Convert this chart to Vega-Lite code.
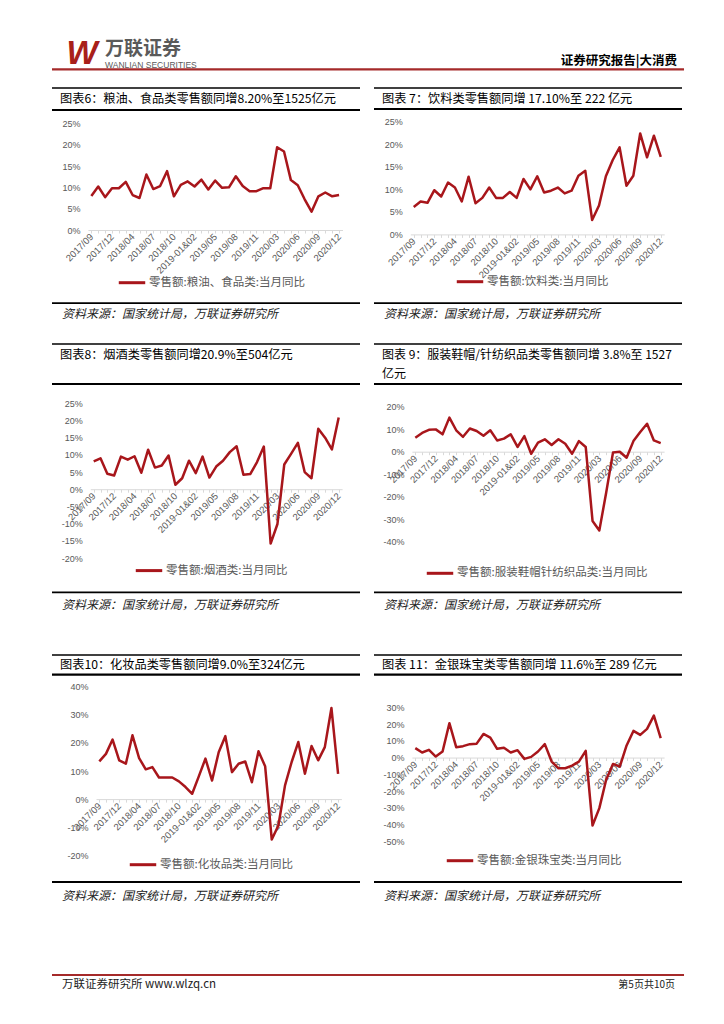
{
  "$schema": "https://vega.github.io/schema/vega-lite/v6.json",
  "padding": {"left": 50, "top": 38, "right": 0, "bottom": 0},
  "background": "white",
  "columns": 2,
  "align": "each",
  "bounds": "flush",
  "spacing": {"row": 0, "column": 14},
  "resolve": {"scale": {"color": "independent"}, "legend": {"color": "independent"}},
  "config": {
    "view": {"stroke": null},
    "font": "Liberation Sans",
    "axisX": {"labelAngle": -45, "labelAlign": "right", "labelBaseline": "middle", "domainColor": "#d9d9d9", "tickColor": "#d9d9d9", "tickSize": 3, "grid": false, "labelPadding": 2, "labelFont": "Liberation Sans", "labelFontSize": 9.5, "labelColor": "#595959", "labelOverlap": false, "labelBound": false},
    "axisY": {"domain": false, "ticks": false, "grid": false, "labelPadding": 8, "labelFont": "Liberation Sans", "labelFontSize": 9, "labelColor": "#595959", "labelOverlap": false},
    "legend": {"orient": "none", "direction": "horizontal", "symbolType": "stroke", "symbolStrokeWidth": 3, "symbolSize": 700, "labelFont": "Noto Sans CJK SC", "labelFontSize": 11.5, "labelColor": "#595959", "labelLimit": 400, "labelOffset": 2, "padding": 0}
  },
  "datasets": {
    "sales": [
      {"month": "2017/09", "grain": 8.0, "beverage": 6.1, "tobacco": 8.1, "apparel": 6.2, "cosmetics": 13.4, "jewelry": 5.6},
      {"month": "2017/10", "grain": 10.2, "beverage": 7.3, "tobacco": 9.0, "apparel": 8.3, "cosmetics": 16.1, "jewelry": 3.0},
      {"month": "2017/11", "grain": 7.7, "beverage": 7.0, "tobacco": 4.5, "apparel": 9.7, "cosmetics": 21.2, "jewelry": 4.6},
      {"month": "2017/12", "grain": 9.8, "beverage": 9.8, "tobacco": 4.0, "apparel": 9.9, "cosmetics": 13.8, "jewelry": 0.6},
      {"month": "2018-01&02", "grain": 9.8, "beverage": 8.4, "tobacco": 9.5, "apparel": 7.7, "cosmetics": 12.6, "jewelry": 3.6},
      {"month": "2018/03", "grain": 11.3, "beverage": 11.5, "tobacco": 8.6, "apparel": 15.1, "cosmetics": 22.7, "jewelry": 20.5},
      {"month": "2018/04", "grain": 8.2, "beverage": 10.4, "tobacco": 9.6, "apparel": 9.5, "cosmetics": 14.6, "jewelry": 6.2},
      {"month": "2018/05", "grain": 7.5, "beverage": 7.3, "tobacco": 4.8, "apparel": 6.6, "cosmetics": 10.6, "jewelry": 6.8},
      {"month": "2018/06", "grain": 13.0, "beverage": 12.8, "tobacco": 11.5, "apparel": 10.3, "cosmetics": 11.4, "jewelry": 8.0},
      {"month": "2018/07", "grain": 9.6, "beverage": 6.9, "tobacco": 6.3, "apparel": 9.2, "cosmetics": 7.7, "jewelry": 8.3},
      {"month": "2018/08", "grain": 10.3, "beverage": 8.1, "tobacco": 6.9, "apparel": 7.1, "cosmetics": 7.7, "jewelry": 14.1},
      {"month": "2018/09", "grain": 13.8, "beverage": 10.4, "tobacco": 9.8, "apparel": 9.5, "cosmetics": 7.7, "jewelry": 11.9},
      {"month": "2018/10", "grain": 7.9, "beverage": 8.1, "tobacco": 1.3, "apparel": 5.0, "cosmetics": 6.3, "jewelry": 5.2},
      {"month": "2018/11", "grain": 10.6, "beverage": 8.1, "tobacco": 3.2, "apparel": 5.8, "cosmetics": 4.3, "jewelry": 5.8},
      {"month": "2018/12", "grain": 11.4, "beverage": 9.4, "tobacco": 8.3, "apparel": 7.7, "cosmetics": 1.9, "jewelry": 3.0},
      {"month": "2019-01&02", "grain": 10.2, "beverage": 8.1, "tobacco": 4.7, "apparel": 2.1, "cosmetics": 8.1, "jewelry": 4.4},
      {"month": "2019/03", "grain": 11.8, "beverage": 12.3, "tobacco": 9.5, "apparel": 6.9, "cosmetics": 14.4, "jewelry": -0.8},
      {"month": "2019/04", "grain": 9.5, "beverage": 10.0, "tobacco": 3.4, "apparel": -0.9, "cosmetics": 6.6, "jewelry": 0.4},
      {"month": "2019/05", "grain": 11.6, "beverage": 12.9, "tobacco": 6.6, "apparel": 4.0, "cosmetics": 16.7, "jewelry": 3.6},
      {"month": "2019/06", "grain": 9.9, "beverage": 9.3, "tobacco": 8.3, "apparel": 5.5, "cosmetics": 22.4, "jewelry": 8.0},
      {"month": "2019/07", "grain": 10.0, "beverage": 9.7, "tobacco": 10.8, "apparel": 3.0, "cosmetics": 9.6, "jewelry": -2.4},
      {"month": "2019/08", "grain": 12.6, "beverage": 10.4, "tobacco": 12.5, "apparel": 5.5, "cosmetics": 12.6, "jewelry": -6.4},
      {"month": "2019/09", "grain": 10.3, "beverage": 9.1, "tobacco": 4.2, "apparel": 3.5, "cosmetics": 13.4, "jewelry": -6.4},
      {"month": "2019/10", "grain": 9.1, "beverage": 9.7, "tobacco": 4.4, "apparel": -0.9, "cosmetics": 6.0, "jewelry": -4.8},
      {"month": "2019/11", "grain": 9.1, "beverage": 13.0, "tobacco": 7.9, "apparel": 4.7, "cosmetics": 17.0, "jewelry": -2.4},
      {"month": "2019/12", "grain": 9.8, "beverage": 14.1, "tobacco": 12.4, "apparel": 2.1, "cosmetics": 11.7, "jewelry": 4.0},
      {"month": "2020-01&02", "grain": 9.8, "beverage": 3.2, "tobacco": -15.8, "apparel": -30.7, "cosmetics": -14.4, "jewelry": -40.6},
      {"month": "2020/03", "grain": 19.4, "beverage": 6.4, "tobacco": -10.1, "apparel": -34.9, "cosmetics": -9.4, "jewelry": -30.2},
      {"month": "2020/04", "grain": 18.4, "beverage": 12.9, "tobacco": 7.2, "apparel": -18.2, "cosmetics": 4.9, "jewelry": -13.3},
      {"month": "2020/05", "grain": 11.7, "beverage": 16.5, "tobacco": 10.3, "apparel": -0.4, "cosmetics": 13.2, "jewelry": -3.8},
      {"month": "2020/06", "grain": 10.5, "beverage": 19.3, "tobacco": 13.5, "apparel": 0.0, "cosmetics": 20.3, "jewelry": -5.4},
      {"month": "2020/07", "grain": 7.2, "beverage": 10.8, "tobacco": 5.0, "apparel": -2.7, "cosmetics": 9.0, "jewelry": 7.2},
      {"month": "2020/08", "grain": 4.3, "beverage": 13.0, "tobacco": 3.2, "apparel": 4.7, "cosmetics": 18.9, "jewelry": 15.9},
      {"month": "2020/09", "grain": 7.9, "beverage": 22.4, "tobacco": 17.6, "apparel": 8.7, "cosmetics": 13.8, "jewelry": 13.5},
      {"month": "2020/10", "grain": 8.8, "beverage": 17.1, "tobacco": 15.0, "apparel": 12.4, "cosmetics": 18.5, "jewelry": 17.1},
      {"month": "2020/11", "grain": 7.9, "beverage": 21.9, "tobacco": 11.6, "apparel": 5.0, "cosmetics": 32.4, "jewelry": 25.0},
      {"month": "2020/12", "grain": 8.2, "beverage": 17.2, "tobacco": 20.9, "apparel": 3.8, "cosmetics": 9.0, "jewelry": 11.6}
    ]
  },
  "concat": [
    {
      "width": 308, "height": 49.3,
      "resolve": {"scale": {"x": "independent", "y": "independent"}},
      "layer": [
        {"data": {"values": [{}]}, "mark": {"type": "rule", "color": "#a52a2a", "strokeWidth": 2.2}, "encoding": {"x": {"datum": 0, "type": "quantitative", "scale": {"domain": [0, 1]}, "axis": null}, "x2": {"datum": 2.052}, "y": {"datum": 0.635, "type": "quantitative", "scale": {"domain": [0, 1], "reverse": true}, "axis": null}}},
        {"data": {"values": [{}]}, "mark": {"type": "text", "text": "W", "font": "Liberation Sans", "fontSize": 33, "fontWeight": "bold", "fontStyle": "italic", "color": "#a8201a", "align": "center", "baseline": "middle"}, "encoding": {"x": {"datum": 0.0974, "type": "quantitative", "scale": {"domain": [0, 1]}, "axis": null}, "y": {"datum": 0.33, "type": "quantitative", "scale": {"domain": [0, 1], "reverse": true}, "axis": null}}},
        {"data": {"values": [{}]}, "mark": {"type": "text", "text": "万联证券", "font": "Noto Sans CJK SC", "fontSize": 19, "fontWeight": "bold", "color": "#5a5a5a", "align": "left", "baseline": "middle"}, "encoding": {"x": {"datum": 0.1721, "type": "quantitative", "scale": {"domain": [0, 1]}, "axis": null}, "y": {"datum": 0.225, "type": "quantitative", "scale": {"domain": [0, 1], "reverse": true}, "axis": null}}},
        {"data": {"values": [{}]}, "mark": {"type": "text", "text": "WANLIAN SECURITIES", "font": "Liberation Sans", "fontSize": 8.5, "color": "#5a5a5a", "align": "left", "baseline": "middle"}, "encoding": {"x": {"datum": 0.1721, "type": "quantitative", "scale": {"domain": [0, 1]}, "axis": null}, "y": {"datum": 0.545, "type": "quantitative", "scale": {"domain": [0, 1], "reverse": true}, "axis": null}}},
        {"data": {"values": [{}]}, "mark": {"type": "text", "text": "证券研究报告|大消费", "font": "Noto Sans CJK SC", "fontSize": 12.5, "fontWeight": "bold", "color": "#000000", "align": "right", "baseline": "middle"}, "encoding": {"x": {"datum": 2.029, "type": "quantitative", "scale": {"domain": [0, 1]}, "axis": null}, "y": {"datum": 0.4665, "type": "quantitative", "scale": {"domain": [0, 1], "reverse": true}, "axis": null}}}
      ]
    },
    {"width": 308, "height": 49.3, "data": {"values": [{}]}, "mark": "text"},

    {
      "width": 308, "height": 255.4,
      "resolve": {"scale": {"x": "independent", "y": "independent"}},
      "layer": [
        {"data": {"values": [{}]}, "mark": {"type": "rule", "color": "#000000", "strokeWidth": 1.3}, "encoding": {"y": {"datum": 0, "type": "quantitative", "scale": {"domain": [0, 1], "reverse": true}, "axis": null}}},
        {"data": {"values": [{}]}, "mark": {"type": "rule", "color": "#000000", "strokeWidth": 2.2}, "encoding": {"y": {"datum": 0.0861, "type": "quantitative", "scale": {"domain": [0, 1], "reverse": true}, "axis": null}}},
        {"data": {"values": [{}]}, "mark": {"type": "text", "text": "图表6：粮油、食品类零售额同增8.20%至1525亿元", "font": "Noto Sans CJK SC", "fontSize": 12.2, "color": "#000000", "align": "left", "baseline": "middle"}, "encoding": {"x": {"datum": 0.026, "type": "quantitative", "scale": {"domain": [0, 1]}, "axis": null}, "y": {"datum": 0.0431, "type": "quantitative", "scale": {"domain": [0, 1], "reverse": true}, "axis": null}}},
        {"data": {"values": [{}]}, "mark": {"type": "rule", "color": "#000000", "strokeWidth": 1.8}, "encoding": {"y": {"datum": 0.8426, "type": "quantitative", "scale": {"domain": [0, 1], "reverse": true}, "axis": null}}},
        {"data": {"values": [{}]}, "mark": {"type": "text", "text": "资料来源：国家统计局，万联证券研究所", "font": "Noto Sans CJK SC", "fontSize": 12, "fontStyle": "italic", "color": "#222222", "align": "left", "baseline": "middle"}, "encoding": {"x": {"datum": 0.0325, "type": "quantitative", "scale": {"domain": [0, 1]}, "axis": null}, "y": {"datum": 0.8837, "type": "quantitative", "scale": {"domain": [0, 1], "reverse": true}, "axis": null}}},
        {
          "data": {"name": "sales"},
          "mark": {"type": "line", "strokeWidth": 2.5, "strokeJoin": "round"},
          "encoding": {
            "x": {"field": "month", "type": "ordinal", "sort": null, "scale": {"type": "point", "padding": 0.5, "range": [35.9, 290.5]}, "axis": {"orient": "bottom", "offset": -113.4, "title": null, "labelExpr": "indexof(['2017/09','2017/12','2018/04','2018/07','2018/10','2019-01&02','2019/05','2019/08','2019/11','2020/03','2020/06','2020/09','2020/12'], datum.value) >= 0 ? datum.value : ''"}},
            "y": {"field": "grain", "type": "quantitative", "scale": {"domain": [0, 25], "nice": false, "range": [142, 35.4]}, "axis": {"orient": "left", "offset": -35.9, "title": null, "values": [0, 5, 10, 15, 20, 25], "labelExpr": "datum.value + '%'"}},
            "color": {"datum": "零售额:粮油、食品类:当月同比", "type": "nominal", "scale": {"range": ["#a8161b"]}, "legend": {"title": null, "legendX": 65, "legendY": 179.7}}
          }
        }
      ]
    },
    {
      "width": 308, "height": 255.4,
      "resolve": {"scale": {"x": "independent", "y": "independent"}},
      "layer": [
        {"data": {"values": [{}]}, "mark": {"type": "rule", "color": "#000000", "strokeWidth": 1.3}, "encoding": {"y": {"datum": 0, "type": "quantitative", "scale": {"domain": [0, 1], "reverse": true}, "axis": null}}},
        {"data": {"values": [{}]}, "mark": {"type": "rule", "color": "#000000", "strokeWidth": 2.2}, "encoding": {"y": {"datum": 0.0822, "type": "quantitative", "scale": {"domain": [0, 1], "reverse": true}, "axis": null}}},
        {"data": {"values": [{}]}, "mark": {"type": "text", "text": "图表 7：饮料类零售额同增 17.10%至 222 亿元", "font": "Noto Sans CJK SC", "fontSize": 12.2, "color": "#000000", "align": "left", "baseline": "middle"}, "encoding": {"x": {"datum": 0.026, "type": "quantitative", "scale": {"domain": [0, 1]}, "axis": null}, "y": {"datum": 0.0419, "type": "quantitative", "scale": {"domain": [0, 1], "reverse": true}, "axis": null}}},
        {"data": {"values": [{}]}, "mark": {"type": "rule", "color": "#000000", "strokeWidth": 1.8}, "encoding": {"y": {"datum": 0.8426, "type": "quantitative", "scale": {"domain": [0, 1], "reverse": true}, "axis": null}}},
        {"data": {"values": [{}]}, "mark": {"type": "text", "text": "资料来源：国家统计局，万联证券研究所", "font": "Noto Sans CJK SC", "fontSize": 12, "fontStyle": "italic", "color": "#222222", "align": "left", "baseline": "middle"}, "encoding": {"x": {"datum": 0.0325, "type": "quantitative", "scale": {"domain": [0, 1]}, "axis": null}, "y": {"datum": 0.8837, "type": "quantitative", "scale": {"domain": [0, 1], "reverse": true}, "axis": null}}},
        {
          "data": {"name": "sales"},
          "mark": {"type": "line", "strokeWidth": 2.5, "strokeJoin": "round"},
          "encoding": {
            "x": {"field": "month", "type": "ordinal", "sort": null, "scale": {"type": "point", "padding": 0.5, "range": [36.3, 290.2]}, "axis": {"orient": "bottom", "offset": -109, "title": null, "labelExpr": "indexof(['2017/09','2017/12','2018/04','2018/07','2018/10','2019-01&02','2019/05','2019/08','2019/11','2020/03','2020/06','2020/09','2020/12'], datum.value) >= 0 ? datum.value : ''"}},
            "y": {"field": "beverage", "type": "quantitative", "scale": {"domain": [0, 25], "nice": false, "range": [146.4, 33.7]}, "axis": {"orient": "left", "offset": -36.3, "title": null, "values": [0, 5, 10, 15, 20, 25], "labelExpr": "datum.value + '%'"}},
            "color": {"datum": "零售额:饮料类:当月同比", "type": "nominal", "scale": {"range": ["#a8161b"]}, "legend": {"title": null, "legendX": 81, "legendY": 178.7}}
          }
        }
      ]
    },

    {
      "width": 308, "height": 310.3,
      "resolve": {"scale": {"x": "independent", "y": "independent"}},
      "layer": [
        {"data": {"values": [{}]}, "mark": {"type": "rule", "color": "#000000", "strokeWidth": 1.3}, "encoding": {"y": {"datum": 0, "type": "quantitative", "scale": {"domain": [0, 1], "reverse": true}, "axis": null}}},
        {"data": {"values": [{}]}, "mark": {"type": "rule", "color": "#000000", "strokeWidth": 2.2}, "encoding": {"y": {"datum": 0.1289, "type": "quantitative", "scale": {"domain": [0, 1], "reverse": true}, "axis": null}}},
        {"data": {"values": [{}]}, "mark": {"type": "text", "text": "图表8：烟酒类零售额同增20.9%至504亿元", "font": "Noto Sans CJK SC", "fontSize": 12.2, "color": "#000000", "align": "left", "baseline": "middle"}, "encoding": {"x": {"datum": 0.026, "type": "quantitative", "scale": {"domain": [0, 1]}, "axis": null}, "y": {"datum": 0.0364, "type": "quantitative", "scale": {"domain": [0, 1], "reverse": true}, "axis": null}}},
        {"data": {"values": [{}]}, "mark": {"type": "rule", "color": "#000000", "strokeWidth": 1.8}, "encoding": {"y": {"datum": 0.8002, "type": "quantitative", "scale": {"domain": [0, 1], "reverse": true}, "axis": null}}},
        {"data": {"values": [{}]}, "mark": {"type": "text", "text": "资料来源：国家统计局，万联证券研究所", "font": "Noto Sans CJK SC", "fontSize": 12, "fontStyle": "italic", "color": "#222222", "align": "left", "baseline": "middle"}, "encoding": {"x": {"datum": 0.0325, "type": "quantitative", "scale": {"domain": [0, 1]}, "axis": null}, "y": {"datum": 0.8421, "type": "quantitative", "scale": {"domain": [0, 1], "reverse": true}, "axis": null}}},
        {
          "data": {"name": "sales"},
          "mark": {"type": "line", "strokeWidth": 2.5, "strokeJoin": "round"},
          "encoding": {
            "x": {"field": "month", "type": "ordinal", "sort": null, "scale": {"type": "point", "padding": 0.5, "range": [38.3, 290.1]}, "axis": {"orient": "bottom", "offset": -165.1, "title": null, "labelExpr": "indexof(['2017/09','2017/12','2018/04','2018/07','2018/10','2019-01&02','2019/05','2019/08','2019/11','2020/03','2020/06','2020/09','2020/12'], datum.value) >= 0 ? datum.value : ''"}},
            "y": {"field": "tobacco", "type": "quantitative", "scale": {"domain": [-20, 25], "nice": false, "range": [214, 59.3]}, "axis": {"orient": "left", "offset": -38.3, "title": null, "values": [-20, -15, -10, -5, 0, 5, 10, 15, 20, 25], "labelExpr": "datum.value + '%'"}},
            "color": {"datum": "零售额:烟酒类:当月同比", "type": "nominal", "scale": {"range": ["#a8161b"]}, "legend": {"title": null, "legendX": 82, "legendY": 211.6}}
          }
        }
      ]
    },
    {
      "width": 308, "height": 310.3,
      "resolve": {"scale": {"x": "independent", "y": "independent"}},
      "layer": [
        {"data": {"values": [{}]}, "mark": {"type": "rule", "color": "#000000", "strokeWidth": 1.3}, "encoding": {"y": {"datum": 0, "type": "quantitative", "scale": {"domain": [0, 1], "reverse": true}, "axis": null}}},
        {"data": {"values": [{}]}, "mark": {"type": "rule", "color": "#000000", "strokeWidth": 2.2}, "encoding": {"y": {"datum": 0.1289, "type": "quantitative", "scale": {"domain": [0, 1], "reverse": true}, "axis": null}}},
        {"data": {"values": [{}]}, "mark": {"type": "text", "text": "图表 9：服装鞋帽/针纺织品类零售额同增 3.8%至 1527", "font": "Noto Sans CJK SC", "fontSize": 12, "color": "#000000", "align": "left", "baseline": "middle"}, "encoding": {"x": {"datum": 0.026, "type": "quantitative", "scale": {"domain": [0, 1]}, "axis": null}, "y": {"datum": 0.0364, "type": "quantitative", "scale": {"domain": [0, 1], "reverse": true}, "axis": null}}},
        {"data": {"values": [{}]}, "mark": {"type": "text", "text": "亿元", "font": "Noto Sans CJK SC", "fontSize": 12, "color": "#000000", "align": "left", "baseline": "middle"}, "encoding": {"x": {"datum": 0.026, "type": "quantitative", "scale": {"domain": [0, 1]}, "axis": null}, "y": {"datum": 0.0967, "type": "quantitative", "scale": {"domain": [0, 1], "reverse": true}, "axis": null}}},
        {"data": {"values": [{}]}, "mark": {"type": "rule", "color": "#000000", "strokeWidth": 1.8}, "encoding": {"y": {"datum": 0.8002, "type": "quantitative", "scale": {"domain": [0, 1], "reverse": true}, "axis": null}}},
        {"data": {"values": [{}]}, "mark": {"type": "text", "text": "资料来源：国家统计局，万联证券研究所", "font": "Noto Sans CJK SC", "fontSize": 12, "fontStyle": "italic", "color": "#222222", "align": "left", "baseline": "middle"}, "encoding": {"x": {"datum": 0.0325, "type": "quantitative", "scale": {"domain": [0, 1]}, "axis": null}, "y": {"datum": 0.8421, "type": "quantitative", "scale": {"domain": [0, 1], "reverse": true}, "axis": null}}},
        {
          "data": {"name": "sales"},
          "mark": {"type": "line", "strokeWidth": 2.5, "strokeJoin": "round"},
          "encoding": {
            "x": {"field": "month", "type": "ordinal", "sort": null, "scale": {"type": "point", "padding": 0.5, "range": [37.9, 290.1]}, "axis": {"orient": "bottom", "offset": -202.6, "title": null, "labelExpr": "indexof(['2017/09','2017/12','2018/04','2018/07','2018/10','2019-01&02','2019/05','2019/08','2019/11','2020/03','2020/06','2020/09','2020/12'], datum.value) >= 0 ? datum.value : ''"}},
            "y": {"field": "apparel", "type": "quantitative", "scale": {"domain": [-40, 20], "nice": false, "range": [197.9, 62.6]}, "axis": {"orient": "left", "offset": -37.9, "title": null, "values": [-40, -30, -20, -10, 0, 10, 20], "labelExpr": "datum.value + '%'"}},
            "color": {"datum": "零售额:服装鞋帽针纺织品类:当月同比", "type": "nominal", "scale": {"range": ["#a8161b"]}, "legend": {"title": null, "legendX": 51, "legendY": 214.3}}
          }
        }
      ]
    },

    {
      "width": 308, "height": 319.7,
      "resolve": {"scale": {"x": "independent", "y": "independent"}},
      "layer": [
        {"data": {"values": [{}]}, "mark": {"type": "rule", "color": "#000000", "strokeWidth": 1.3}, "encoding": {"y": {"datum": 0, "type": "quantitative", "scale": {"domain": [0, 1], "reverse": true}, "axis": null}}},
        {"data": {"values": [{}]}, "mark": {"type": "rule", "color": "#000000", "strokeWidth": 2.2}, "encoding": {"y": {"datum": 0.0616, "type": "quantitative", "scale": {"domain": [0, 1], "reverse": true}, "axis": null}}},
        {"data": {"values": [{}]}, "mark": {"type": "text", "text": "图表10：化妆品类零售额同增9.0%至324亿元", "font": "Noto Sans CJK SC", "fontSize": 12.2, "color": "#000000", "align": "left", "baseline": "middle"}, "encoding": {"x": {"datum": 0.026, "type": "quantitative", "scale": {"domain": [0, 1]}, "axis": null}, "y": {"datum": 0.0303, "type": "quantitative", "scale": {"domain": [0, 1], "reverse": true}, "axis": null}}},
        {"data": {"values": [{}]}, "mark": {"type": "rule", "color": "#000000", "strokeWidth": 1.8}, "encoding": {"y": {"datum": 0.71, "type": "quantitative", "scale": {"domain": [0, 1], "reverse": true}, "axis": null}}},
        {"data": {"values": [{}]}, "mark": {"type": "text", "text": "资料来源：国家统计局，万联证券研究所", "font": "Noto Sans CJK SC", "fontSize": 12, "fontStyle": "italic", "color": "#222222", "align": "left", "baseline": "middle"}, "encoding": {"x": {"datum": 0.0325, "type": "quantitative", "scale": {"domain": [0, 1]}, "axis": null}, "y": {"datum": 0.7538, "type": "quantitative", "scale": {"domain": [0, 1], "reverse": true}, "axis": null}}},
        {
          "data": {"name": "sales"},
          "mark": {"type": "line", "strokeWidth": 2.5, "strokeJoin": "round"},
          "encoding": {
            "x": {"field": "month", "type": "ordinal", "sort": null, "scale": {"type": "point", "padding": 0.5, "range": [44, 289.4]}, "axis": {"orient": "bottom", "offset": -175.6, "title": null, "labelExpr": "indexof(['2017/09','2017/12','2018/04','2018/07','2018/10','2019-01&02','2019/05','2019/08','2019/11','2020/03','2020/06','2020/09','2020/12'], datum.value) >= 0 ? datum.value : ''"}},
            "y": {"field": "cosmetics", "type": "quantitative", "scale": {"domain": [-20, 40], "nice": false, "range": [200.3, 31.7]}, "axis": {"orient": "left", "offset": -44, "title": null, "values": [-20, -10, 0, 10, 20, 30, 40], "labelExpr": "datum.value + '%'"}},
            "color": {"datum": "零售额:化妆品类:当月同比", "type": "nominal", "scale": {"range": ["#a8161b"]}, "legend": {"title": null, "legendX": 76, "legendY": 194.7}}
          }
        }
      ]
    },
    {
      "width": 308, "height": 319.7,
      "resolve": {"scale": {"x": "independent", "y": "independent"}},
      "layer": [
        {"data": {"values": [{}]}, "mark": {"type": "rule", "color": "#000000", "strokeWidth": 1.3}, "encoding": {"y": {"datum": 0, "type": "quantitative", "scale": {"domain": [0, 1], "reverse": true}, "axis": null}}},
        {"data": {"values": [{}]}, "mark": {"type": "rule", "color": "#000000", "strokeWidth": 2.2}, "encoding": {"y": {"datum": 0.0616, "type": "quantitative", "scale": {"domain": [0, 1], "reverse": true}, "axis": null}}},
        {"data": {"values": [{}]}, "mark": {"type": "text", "text": "图表 11：金银珠宝类零售额同增 11.6%至 289 亿元", "font": "Noto Sans CJK SC", "fontSize": 12.2, "color": "#000000", "align": "left", "baseline": "middle"}, "encoding": {"x": {"datum": 0.026, "type": "quantitative", "scale": {"domain": [0, 1]}, "axis": null}, "y": {"datum": 0.0303, "type": "quantitative", "scale": {"domain": [0, 1], "reverse": true}, "axis": null}}},
        {"data": {"values": [{}]}, "mark": {"type": "rule", "color": "#000000", "strokeWidth": 1.8}, "encoding": {"y": {"datum": 0.71, "type": "quantitative", "scale": {"domain": [0, 1], "reverse": true}, "axis": null}}},
        {"data": {"values": [{}]}, "mark": {"type": "text", "text": "资料来源：国家统计局，万联证券研究所", "font": "Noto Sans CJK SC", "fontSize": 12, "fontStyle": "italic", "color": "#222222", "align": "left", "baseline": "middle"}, "encoding": {"x": {"datum": 0.0325, "type": "quantitative", "scale": {"domain": [0, 1]}, "axis": null}, "y": {"datum": 0.7538, "type": "quantitative", "scale": {"domain": [0, 1], "reverse": true}, "axis": null}}},
        {
          "data": {"name": "sales"},
          "mark": {"type": "line", "strokeWidth": 2.5, "strokeJoin": "round"},
          "encoding": {
            "x": {"field": "month", "type": "ordinal", "sort": null, "scale": {"type": "point", "padding": 0.5, "range": [37.9, 290.1]}, "axis": {"orient": "bottom", "offset": -217.15, "title": null, "labelExpr": "indexof(['2017/09','2017/12','2018/04','2018/07','2018/10','2019-01&02','2019/05','2019/08','2019/11','2020/03','2020/06','2020/09','2020/12'], datum.value) >= 0 ? datum.value : ''"}},
            "y": {"field": "jewelry", "type": "quantitative", "scale": {"domain": [-50, 30], "nice": false, "range": [186.3, 52.3]}, "axis": {"orient": "left", "offset": -37.9, "title": null, "values": [-50, -40, -30, -20, -10, 0, 10, 20, 30], "labelExpr": "datum.value + '%'"}},
            "color": {"datum": "零售额:金银珠宝类:当月同比", "type": "nominal", "scale": {"range": ["#a8161b"]}, "legend": {"title": null, "legendX": 71, "legendY": 190.7}}
          }
        }
      ]
    },

    {
      "width": 308, "height": 30,
      "resolve": {"scale": {"x": "independent", "y": "independent"}},
      "layer": [
        {"data": {"values": [{}]}, "mark": {"type": "rule", "color": "#a52a2a", "strokeWidth": 2}, "encoding": {"x": {"datum": 0, "type": "quantitative", "scale": {"domain": [0, 1]}, "axis": null}, "x2": {"datum": 2.052}, "y": {"datum": 0, "type": "quantitative", "scale": {"domain": [0, 1], "reverse": true}, "axis": null}}},
        {"data": {"values": [{}]}, "mark": {"type": "text", "text": "万联证券研究所 www.wlzq.cn", "font": "Noto Sans CJK SC", "fontSize": 11.5, "color": "#222222", "align": "left", "baseline": "middle"}, "encoding": {"x": {"datum": 0.0325, "type": "quantitative", "scale": {"domain": [0, 1]}, "axis": null}, "y": {"datum": 0.333, "type": "quantitative", "scale": {"domain": [0, 1], "reverse": true}, "axis": null}}},
        {"data": {"values": [{}]}, "mark": {"type": "text", "text": "第5页共10页", "font": "Noto Sans CJK SC", "fontSize": 10, "color": "#222222", "align": "right", "baseline": "middle"}, "encoding": {"x": {"datum": 2.0227, "type": "quantitative", "scale": {"domain": [0, 1]}, "axis": null}, "y": {"datum": 0.333, "type": "quantitative", "scale": {"domain": [0, 1], "reverse": true}, "axis": null}}}
      ]
    },
    {"width": 308, "height": 30, "data": {"values": [{}]}, "mark": "text"}
  ]
}
